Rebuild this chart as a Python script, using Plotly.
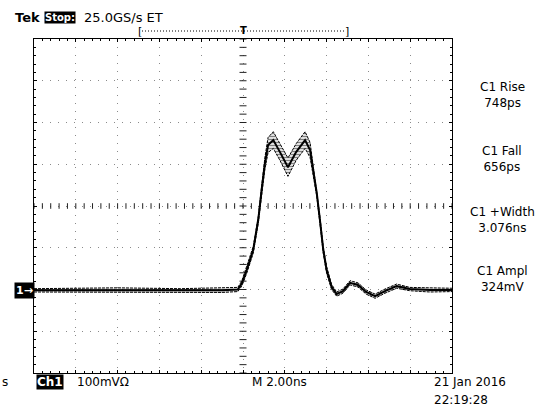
import numpy as np
import plotly.graph_objects as go

# waveform: time in ns (2 ns/div, trigger at 0), level in mV (100 mV/div, screen centre = 0)
t_ns = [-10.0, -6.0, -3.0, -1.0, -0.25, -0.06, 0.18, 0.49, 0.73, 0.89, 1.05, 1.20, 1.45, 1.77,
        2.15, 2.54, 2.97, 3.21, 3.35, 3.53, 3.68, 3.84, 4.00, 4.24, 4.48, 4.78, 5.12,
        5.50, 5.89, 6.32, 6.79, 7.35, 7.99, 8.95, 10.0]
v_mv = [-202, -201, -202, -202, -200, -186, -153, -105, -33, 38, 103, 146, 158, 129,
        93, 129, 158, 134, 86, 31, -33, -105, -153, -194, -211, -204, -184,
        -189, -206, -216, -204, -192, -199, -201, -201]
spread_mv = [4, 5, 4, 5, 5, 6, 8, 8, 8, 10, 14, 18, 20, 20,
             22, 20, 20, 18, 12, 8, 8, 8, 8, 6, 5, 5, 5,
             5, 5, 5, 5, 5, 4, 5, 4]

x_range = [-10, 10]
y_range = [-400, 400]

measure_labels = ["C1 Rise", "C1 Fall", "C1 +Width", "C1 Ampl"]
measure_values = ["748ps", "656ps", "3.076ns", "324mV"]
measure_rows = [95, 159, 220, 279]   # screen rows (px) of the readouts

# plot area in pixels
L, R, T, B = 34, 452, 39, 373
W, H = 555, 418


def px(x):
    return (x - L) / (R - L)


def py(y):
    return (B - y) / (B - T)


upper = [v + s for v, s in zip(v_mv, spread_mv)]
lower = [v - s for v, s in zip(v_mv, spread_mv)]

fig = go.Figure()

# graticule ticks on the centre cross
cx = np.arange(x_range[0], x_range[1] + 0.01, 0.4)
cy = np.arange(y_range[0], y_range[1] + 0.1, 20)
fig.add_trace(go.Scatter(x=cx, y=[0] * len(cx), mode="markers",
                         marker=dict(symbol="line-ns", size=4, line=dict(color="#222", width=1)),
                         showlegend=False, hoverinfo="skip"))
fig.add_trace(go.Scatter(x=[0] * len(cy), y=cy, mode="markers",
                         marker=dict(symbol="line-ew", size=5, line=dict(color="#222", width=1)),
                         showlegend=False, hoverinfo="skip"))

# noise envelope of the acquired trace
fig.add_trace(go.Scatter(x=t_ns, y=lower, mode="lines", line=dict(color="black", width=1, dash="3px,1px"),
                         showlegend=False, hoverinfo="skip"))
fig.add_trace(go.Scatter(x=t_ns, y=upper, mode="lines", line=dict(color="black", width=1, dash="3px,1px"),
                         fill="tonexty", fillcolor="rgba(0,0,0,0)",
                         fillpattern=dict(shape="-", fgcolor="black", size=3, solidity=0.5),
                         showlegend=False, hoverinfo="skip"))
fig.add_trace(go.Scatter(x=t_ns, y=v_mv, mode="lines", line=dict(color="black", width=2),
                         showlegend=False))

axis_style = dict(showgrid=True, gridcolor="#8a8a8a", griddash="1px,7px", gridwidth=1,
                  zeroline=False, showline=True, linecolor="black", linewidth=1,
                  mirror="ticks", ticks="inside", ticklen=3, tickcolor="black",
                  showticklabels=False, fixedrange=True)

fig.update_xaxes(range=x_range, dtick=2,
                 minor=dict(ticks="inside", dtick=0.4, ticklen=2, tickcolor="black", showgrid=False),
                 **axis_style)
fig.update_yaxes(range=y_range, dtick=100,
                 minor=dict(ticks="inside", dtick=20, ticklen=2, tickcolor="black", showgrid=False),
                 **axis_style)

font = dict(family="DejaVu Sans", size=12, color="black")
ann = []

# top status line
ann.append(dict(text="<b>Tek</b>", x=px(13), y=py(17), xanchor="left", yanchor="middle",
                font=dict(family="DejaVu Sans", size=13, color="black")))
ann.append(dict(text="<b>Stop:</b>", x=px(44), y=py(17), xanchor="left", yanchor="middle",
                bgcolor="black", borderpad=0, font=dict(family="DejaVu Sans", size=10, color="white")))
ann.append(dict(text="25.0GS/s ET", x=px(82), y=py(17), xanchor="left", yanchor="middle",
                font=dict(family="DejaVu Sans", size=13, color="black")))

# record position bracket
ann.append(dict(text="[", x=px(140), y=py(31), xanchor="center", yanchor="middle",
                font=dict(family="DejaVu Sans", size=11, color="black")))
ann.append(dict(text="]", x=px(347), y=py(31), xanchor="center", yanchor="middle",
                font=dict(family="DejaVu Sans", size=11, color="black")))
ann.append(dict(text="<b>T</b>", x=px(243), y=py(30), xanchor="center", yanchor="middle",
                font=dict(family="DejaVu Sans", size=10, color="black")))

# channel marker
ann.append(dict(text="<b>1→</b>", x=px(24), y=-202, yref="y", xanchor="center", yanchor="middle",
                bgcolor="black", borderpad=1, font=dict(family="DejaVu Sans", size=11, color="white")))

# measurement readouts
for lab, val, row in zip(measure_labels, measure_values, measure_rows):
    ann.append(dict(text=lab + "<br>" + val, x=px(502), y=py(row), xanchor="center", yanchor="middle",
                    font=font))

# bottom status line
ann.append(dict(text="s", x=px(0), y=py(382), xanchor="left", yanchor="middle", font=font))
ann.append(dict(text="<b>Ch1</b>", x=px(36), y=py(382), xanchor="left", yanchor="middle",
                bgcolor="black", borderpad=0, font=dict(family="DejaVu Sans", size=12, color="white")))
ann.append(dict(text="100mVΩ", x=px(75), y=py(382), xanchor="left", yanchor="middle", font=font))
ann.append(dict(text="M 2.00ns", x=px(250), y=py(382), xanchor="left", yanchor="middle", font=font))
ann.append(dict(text="21 Jan 2016", x=px(432), y=py(382), xanchor="left", yanchor="middle", font=font))
ann.append(dict(text="22:19:28", x=px(432), y=py(400), xanchor="left", yanchor="middle", font=font))

for a in ann:
    a.setdefault("xref", "paper")
    a.setdefault("yref", "paper")
    a["showarrow"] = False

fig.update_layout(
    width=W, height=H,
    margin=dict(l=L, r=W - R, t=T, b=H - B, pad=0),
    paper_bgcolor="white", plot_bgcolor="white",
    annotations=ann,
    shapes=[dict(type="line", xref="paper", yref="paper", x0=px(142), x1=px(345), y0=py(31), y1=py(31),
                 line=dict(color="black", width=1, dash="1px,2px"))],
    showlegend=False,
)

# page body margin would shift the screen by 8px
fig.write_html("out.html", config={"displayModeBar": False},
               post_script="document.body.style.margin='0';")
